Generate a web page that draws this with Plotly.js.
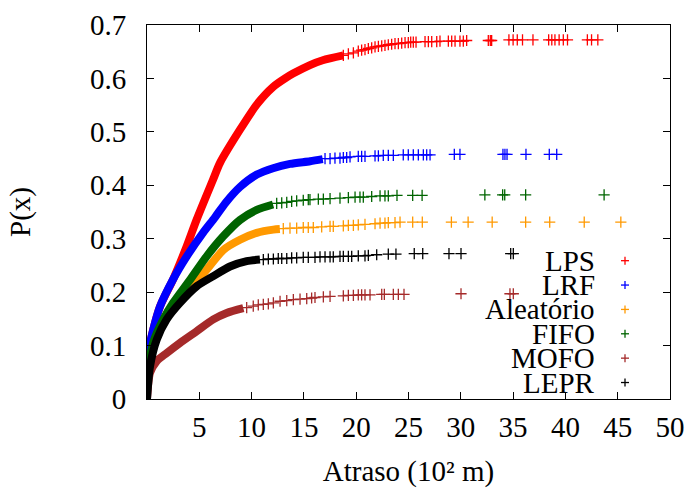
<!DOCTYPE html>
<html><head><meta charset="utf-8">
<script src="https://cdn.plot.ly/plotly-3.0.1.min.js"></script>
<style>html,body{margin:0;padding:0;background:#fff}#chart{width:689px;height:488px}</style>
</head><body><div id="chart"></div>
<script>
// ---- data ----
const seriesNames = ['LPS', 'LRF', 'Aleatório', 'FIFO', 'MOFO', 'LEPR'];
const xTickVals = [5, 10, 15, 20, 25, 30, 35, 40, 45, 50];
const yTickVals = [0, 0.1, 0.2, 0.3, 0.4, 0.5, 0.6, 0.7];
const yTickText = ['0', '0.1', '0.2', '0.3', '0.4', '0.5', '0.6', '0.7'];

// LPS
const lpsX = [0, 0.12, 0.6, 1.24, 2.52, 3.8, 4.75, 6.3, 6.98, 8.89, 10.49, 12.05, 13.2, 13.96, 15.58, 16.8, 18.77];
const lpsY = [0, 0.086, 0.13, 0.173, 0.225, 0.286, 0.336, 0.41, 0.442, 0.504, 0.551, 0.584, 0.6, 0.609, 0.625, 0.634, 0.643];
const lpsPtsX = [18.77, 19.25, 19.73, 20.2, 20.52, 20.84, 21.16, 21.48, 21.8, 22.12, 22.44, 22.75, 23.07, 23.39, 23.71, 24.03, 24.35, 24.67, 24.98, 25.21, 25.46, 25.72, 26.58, 26.9, 27.22, 27.7, 28.01, 28.81, 29.13, 29.45, 29.92, 30.24, 30.56, 32.63, 32.82, 32.95, 34.6, 35.0, 35.4, 35.9, 36.9, 38.4, 38.7, 39.0, 39.4, 39.8, 40.2, 42.1, 42.5, 43.1];
const lpsPtsY = [0.643, 0.646, 0.648, 0.651, 0.653, 0.654, 0.656, 0.657, 0.659, 0.66, 0.661, 0.662, 0.663, 0.664, 0.665, 0.665, 0.666, 0.667, 0.667, 0.668, 0.668, 0.668, 0.669, 0.669, 0.669, 0.669, 0.67, 0.67, 0.67, 0.67, 0.67, 0.67, 0.671, 0.671, 0.671, 0.671, 0.672, 0.672, 0.672, 0.672, 0.672, 0.672, 0.672, 0.672, 0.672, 0.672, 0.672, 0.672, 0.672, 0.672];

// LRF
const lrfX = [0, 0.12, 0.6, 1.24, 2.52, 3.8, 5.35, 6.5, 7.5, 8.9, 10.5, 12.05, 13.67, 15.6, 16.8];
const lrfY = [0, 0.086, 0.13, 0.173, 0.225, 0.267, 0.311, 0.34, 0.367, 0.397, 0.42, 0.432, 0.44, 0.445, 0.449];
const lrfPtsX = [17.02, 17.5, 17.97, 18.45, 18.77, 19.09, 19.41, 20.2, 20.52, 20.84, 21.8, 22.12, 22.59, 23.07, 23.55, 24.5, 24.98, 25.46, 25.94, 26.42, 26.74, 27.06, 29.38, 29.92, 34.03, 34.22, 34.42, 36.23, 38.46, 39.17];
const lrfPtsY = [0.45, 0.45, 0.451, 0.451, 0.452, 0.452, 0.453, 0.454, 0.454, 0.454, 0.455, 0.455, 0.456, 0.456, 0.456, 0.457, 0.457, 0.457, 0.457, 0.457, 0.457, 0.457, 0.458, 0.458, 0.458, 0.458, 0.458, 0.458, 0.458, 0.458];

// Aleatório
const aleX = [0, 0.05, 0.6, 1.56, 2.51, 4.11, 5.7, 7.3, 8.89, 10.49, 12.08, 12.7];
const aleY = [0, 0.045, 0.1, 0.142, 0.173, 0.205, 0.242, 0.279, 0.298, 0.311, 0.317, 0.318];
const alePtsX = [13.03, 13.67, 14.31, 14.94, 15.42, 15.9, 16.7, 17.5, 17.81, 18.77, 19.25, 19.73, 20.2, 20.84, 21.8, 22.28, 22.75, 23.07, 23.71, 24.19, 25.4, 26.32, 29.1, 30.7, 33.0, 36.2, 38.5, 41.8, 45.3];
const alePtsY = [0.319, 0.32, 0.32, 0.321, 0.321, 0.321, 0.322, 0.323, 0.323, 0.324, 0.325, 0.325, 0.326, 0.327, 0.328, 0.329, 0.329, 0.33, 0.33, 0.331, 0.331, 0.331, 0.331, 0.331, 0.331, 0.331, 0.331, 0.331, 0.331];

// FIFO
const fifoX = [0, 0.05, 0.6, 1.56, 2.5, 4.11, 5.7, 7.27, 8.89, 10.49, 12.05];
const fifoY = [0, 0.05, 0.106, 0.149, 0.18, 0.223, 0.267, 0.304, 0.335, 0.354, 0.364];
const fifoPtsX = [12.4, 12.88, 13.36, 13.83, 14.31, 14.94, 15.42, 15.58, 16.38, 16.86, 17.5, 18.45, 19.25, 19.89, 20.36, 20.68, 21.48, 22.28, 22.75, 23.07, 23.9, 25.4, 26.3, 32.3, 34.0, 34.2, 36.2, 43.7];
const fifoPtsY = [0.366, 0.367, 0.368, 0.37, 0.371, 0.372, 0.373, 0.373, 0.374, 0.374, 0.375, 0.376, 0.377, 0.378, 0.378, 0.378, 0.379, 0.38, 0.38, 0.38, 0.381, 0.381, 0.381, 0.382, 0.382, 0.382, 0.382, 0.382];

// MOFO
const mofoX = [0, 0.29, 0.93, 1.88, 3.15, 4.75, 6.34, 7.62, 9.21];
const mofoY = [0, 0.049, 0.071, 0.086, 0.105, 0.127, 0.149, 0.161, 0.17];
const mofoPtsX = [9.53, 10.16, 10.64, 11.12, 11.6, 12.08, 12.72, 13.36, 13.99, 14.63, 15.27, 15.74, 16.06, 16.86, 17.5, 18.77, 19.25, 19.73, 20.2, 20.52, 20.84, 21.32, 22.44, 22.69, 23.55, 24.03, 24.57, 30.02, 34.7, 35.02];
const mofoPtsY = [0.171, 0.174, 0.176, 0.177, 0.178, 0.18, 0.183, 0.184, 0.186, 0.187, 0.188, 0.189, 0.19, 0.191, 0.192, 0.193, 0.194, 0.194, 0.195, 0.195, 0.195, 0.195, 0.196, 0.196, 0.196, 0.196, 0.196, 0.197, 0.197, 0.197];

// LEPR
const leprX = [0, 0.29, 0.93, 1.88, 3.15, 4.75, 6.34, 7.93, 9.53, 10.8];
const leprY = [0, 0.061, 0.111, 0.149, 0.18, 0.211, 0.23, 0.248, 0.258, 0.261];
const leprPtsX = [11.12, 11.6, 12.08, 12.55, 12.88, 13.36, 13.83, 14.31, 14.94, 15.42, 16.06, 16.54, 17.02, 17.5, 17.81, 18.45, 18.77, 19.25, 19.57, 20.2, 20.84, 21.16, 21.96, 23.07, 23.8, 25.55, 26.36, 28.87, 30.02, 34.77, 35.02];
const leprPtsY = [0.261, 0.262, 0.262, 0.263, 0.263, 0.263, 0.264, 0.264, 0.265, 0.265, 0.265, 0.266, 0.266, 0.266, 0.266, 0.267, 0.267, 0.267, 0.267, 0.268, 0.268, 0.269, 0.27, 0.271, 0.271, 0.272, 0.272, 0.272, 0.272, 0.272, 0.272];

// ---- styling / assembly ----
const seriesColors = ['#ff0000', '#0000ff', '#ff9900', '#006400', '#a52a2a', '#000000'];
const curves = [
  [lpsX, lpsY, lpsPtsX, lpsPtsY],
  [lrfX, lrfY, lrfPtsX, lrfPtsY],
  [aleX, aleY, alePtsX, alePtsY],
  [fifoX, fifoY, fifoPtsX, fifoPtsY],
  [mofoX, mofoY, mofoPtsX, mofoPtsY],
  [leprX, leprY, leprPtsX, leprPtsY]
];

const FONT = 'Liberation Serif, Times New Roman, serif';
const traces = [];
curves.forEach((c, i) => {
  const col = seriesColors[i];
  traces.push({
    x: c[0], y: c[1], type: 'scatter', mode: 'lines', name: seriesNames[i], showlegend: false,
    line: {color: col, width: 8, shape: 'spline', smoothing: 0.7}, hoverinfo: 'skip'
  });
  traces.push({
    x: c[2], y: c[3], type: 'scatter', mode: 'markers', name: seriesNames[i], showlegend: false,
    marker: {symbol: 'cross-thin-open', size: 8, color: col, line: {color: col, width: 1.3}}, hoverinfo: 'skip'
  });
});

// legend (gnuplot style: right-aligned text, symbol to the right)
const L = 147, R = 670, T = 25, B = 399.5;
const legTextX = 597, legMarkX = 625, legY0 = 261, legStep = 24.4;
const annotations = [];
const shapes = [];
seriesNames.forEach((n, i) => {
  const py = legY0 + i * legStep;
  const yp = (B - py) / (B - T);
  annotations.push({
    xref: 'paper', yref: 'paper', x: (legTextX - L) / (R - L), y: yp, xanchor: 'right', yanchor: 'middle',
    text: n, showarrow: false, font: {family: FONT, size: 29, color: '#000'}
  });
  const xa = (legMarkX - L) / (R - L);
  shapes.push({type: 'line', xref: 'paper', yref: 'paper', xsizemode: 'pixel', ysizemode: 'pixel',
    xanchor: xa, yanchor: yp, x0: -4, x1: 4, y0: 0, y1: 0, line: {color: seriesColors[i], width: 1.3}});
  shapes.push({type: 'line', xref: 'paper', yref: 'paper', xsizemode: 'pixel', ysizemode: 'pixel',
    xanchor: xa, yanchor: yp, x0: 0, x1: 0, y0: -4, y1: 4, line: {color: seriesColors[i], width: 1.3}});
});

const layout = {
  width: 689, height: 488,
  margin: {l: L, r: 689 - R, t: T, b: 488 - B, pad: 0},
  paper_bgcolor: '#fff', plot_bgcolor: '#fff',
  showlegend: false,
  font: {family: FONT, size: 29, color: '#000'},
  xaxis: {
    range: [0, 50], tickmode: 'array', tickvals: xTickVals, ticktext: xTickVals.map(String),
    ticks: 'inside', ticklen: 7, tickwidth: 1, tickcolor: '#000',
    showline: true, linecolor: '#000', linewidth: 1, mirror: 'ticks',
    showgrid: false, zeroline: false, ticklabelstandoff: 2,
    tickfont: {family: FONT, size: 29, color: '#000'},
    title: {text: 'Atraso (10² m)', standoff: 20, font: {family: FONT, size: 29, color: '#000'}}
  },
  yaxis: {
    range: [0, 0.7], tickmode: 'array', tickvals: yTickVals, ticktext: yTickText,
    ticks: 'inside', ticklen: 7, tickwidth: 1, tickcolor: '#000',
    showline: true, linecolor: '#000', linewidth: 1, mirror: 'ticks',
    showgrid: false, zeroline: false, ticklabelstandoff: 14,
    tickfont: {family: FONT, size: 29, color: '#000'},
    title: {text: 'P(x)', standoff: 50, font: {family: FONT, size: 29, color: '#000'}}
  },
  annotations: annotations,
  shapes: shapes
};

Plotly.newPlot('chart', traces, layout, {displayModeBar: false, staticPlot: true});
</script>
</body></html>
